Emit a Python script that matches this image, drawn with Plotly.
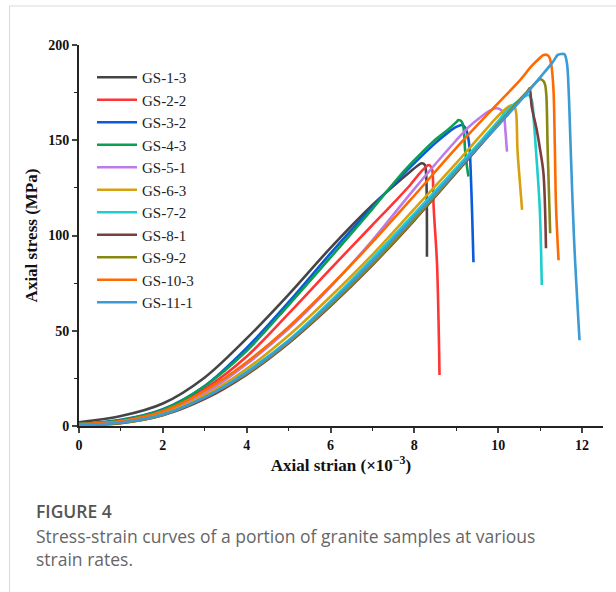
import plotly.graph_objects as go

# ---- data (strain x10^-3, stress MPa) ----
names = ["GS-1-3", "GS-2-2", "GS-3-2", "GS-4-3", "GS-5-1", "GS-6-3",
         "GS-7-2", "GS-8-1", "GS-9-2", "GS-10-3", "GS-11-1"]

gs_1_3_x = [0, 1, 2, 3, 4, 5, 6, 7, 7.5, 7.9, 8.1, 8.18, 8.25, 8.28, 8.30]
gs_1_3_y = [2, 5.2, 11.8, 25.5, 46, 69, 93.5, 116, 126, 133.5, 137, 137.9, 137, 132.6, 88.9]

gs_2_2_x = [0, 1, 2, 3, 4, 5, 6, 7, 7.5, 7.9, 8.1, 8.25, 8.34, 8.4, 8.43, 8.46, 8.54, 8.59, 8.6]
gs_2_2_y = [1, 2.8, 8, 19.5, 36.5, 59, 82.5, 105.5, 117, 126.5, 132, 135.5, 137, 136, 134, 115, 85.4, 40.8, 26.8]

gs_3_2_x = [0, 1, 2, 3, 4, 5, 6, 7, 7.66, 8, 8.5, 8.8, 9.0, 9.13, 9.22, 9.28, 9.32, 9.34, 9.38, 9.41]
gs_3_2_y = [1, 3.2, 8.8, 21, 41, 65, 90.6, 115, 130.5, 138, 148.5, 154, 157, 158, 156.5, 152, 145, 136, 110, 86]

gs_4_3_x = [0, 1, 2, 3, 4, 5, 6, 7, 7.66, 8, 8.46, 8.8, 9.0, 9.05, 9.12, 9.17, 9.21, 9.25, 9.29]
gs_4_3_y = [1, 3, 8.5, 21, 39.5, 63.5, 88.5, 114, 131.5, 139.5, 149.5, 155.5, 159.5, 160.6, 160, 157, 145, 137, 131]

gs_5_1_x = [0, 1, 2, 3, 4, 5, 6, 7, 8, 9, 9.3, 9.6, 9.8, 9.93, 10.05, 10.13, 10.17, 10.21]
gs_5_1_y = [0.8, 2.2, 7, 17, 32.5, 51, 73, 97.5, 124.5, 150, 157, 162.5, 165.5, 166.8, 166.2, 164, 155.4, 144]

gs_6_3_x = [0, 1, 2, 3, 4, 5, 6, 7, 8, 9, 9.4, 9.8, 10.1, 10.33, 10.4, 10.43, 10.46, 10.5, 10.57]
gs_6_3_y = [0.8, 2, 6.5, 16, 30, 47.5, 68, 90, 114, 138, 148, 158, 165, 168.5, 167, 164, 145, 132.6, 113.4]

gs_7_2_x = [0, 1, 2, 3, 4, 5, 6, 7, 8, 9, 9.6, 10.0, 10.2, 10.5, 10.72, 10.8, 10.85, 10.9, 10.99, 11.04]
gs_7_2_y = [0.6, 1.8, 6, 15, 28.5, 45, 65.5, 88, 111.5, 135.5, 150, 160, 165.5, 171, 173.8, 171, 160, 145, 115, 74]

gs_8_1_x = [0, 1, 2, 3, 4, 5, 6, 7, 8, 9, 10, 10.5, 10.7, 10.75, 10.8, 10.92, 11.0, 11.08, 11.14]
gs_8_1_y = [0.5, 1.5, 5.6, 14.2, 27, 43.5, 63, 84.5, 108, 133, 158, 170.5, 175.5, 177.3, 167.6, 155.4, 145, 132.6, 93.3]

gs_9_2_x = [0, 1, 2, 3, 4, 5, 6, 7, 8, 9, 10, 10.5, 10.8, 11.0, 11.08, 11.12, 11.15, 11.18, 11.24]
gs_9_2_y = [0.5, 1.6, 5.8, 15, 27.5, 44, 63.5, 85, 108.5, 133.5, 158.5, 171, 178, 182, 181, 179, 173, 145, 101.2]

gs_10_3_x = [0, 1, 2, 3, 4, 5, 6, 7, 8, 9, 10, 10.5, 10.8, 11.0, 11.08, 11.2, 11.27, 11.32, 11.35, 11.38, 11.44]
gs_10_3_y = [1, 2.6, 7.8, 18.5, 33.5, 52, 73.5, 96.5, 121, 146, 169.5, 181, 189, 193.3, 194.8, 194.3, 189, 176, 148, 115, 87]

gs_11_1_x = [0, 1, 2, 3, 4, 5, 6, 7, 8, 9, 10, 10.5, 11.0, 11.3, 11.42, 11.5, 11.58, 11.64, 11.68, 11.73, 11.81, 11.94]
gs_11_1_y = [0.5, 1.8, 6, 15, 28, 44.5, 64.5, 86.5, 110, 134, 158, 170, 183, 191, 194.8, 195.3, 195.1, 190.4, 176.4, 145, 97.6, 45]

colors = ["#454545", "#FF3535", "#0A5BDB", "#0C9E52", "#BC7BE6", "#D9A00E",
          "#1ECDCD", "#7A3E3E", "#878712", "#FF6A00", "#3C9AD4"]

xs = [gs_1_3_x, gs_2_2_x, gs_3_2_x, gs_4_3_x, gs_5_1_x, gs_6_3_x,
      gs_7_2_x, gs_8_1_x, gs_9_2_x, gs_10_3_x, gs_11_1_x]
ys = [gs_1_3_y, gs_2_2_y, gs_3_2_y, gs_4_3_y, gs_5_1_y, gs_6_3_y,
      gs_7_2_y, gs_8_1_y, gs_9_2_y, gs_10_3_y, gs_11_1_y]

x_ticks = [0, 2, 4, 6, 8, 10, 12]
y_ticks = [0, 50, 100, 150, 200]

fig = go.Figure()
for n, x, y, c in zip(names, xs, ys, colors):
    fig.add_trace(go.Scatter(x=x, y=y, name=n, mode="lines",
                             line=dict(color=c, width=2.6, shape="spline", smoothing=0.9)))

W, H = 616, 592
L, R, T, B = 79, 13, 45, 166
pw, ph = W - L - R, H - T - B

def px(xp):
    return (xp - L) / pw

def py(yp):
    return (H - B - yp) / ph

serif = "Liberation Serif, Times New Roman, serif"
sans = "Open Sans, Noto Sans, sans-serif"

fig.update_layout(
    width=W, height=H,
    margin=dict(l=L, r=R, t=T, b=B),
    paper_bgcolor="white", plot_bgcolor="white",
    showlegend=True,
    legend=dict(x=px(92), y=py(61), xanchor="left", yanchor="top",
                font=dict(family=serif, size=15, color="#222"),
                bgcolor="rgba(0,0,0,0)", itemwidth=40, tracegroupgap=0),
    xaxis=dict(range=[0, 12.5], tickvals=x_ticks, ticks="outside", ticklen=5, tickwidth=1.5,
               showline=True, linecolor="#222", linewidth=2, showgrid=False, zeroline=False,
               tickfont=dict(family=serif, size=14, color="#111", weight="bold"),
               minor=dict(ticks="outside", ticklen=3, dtick=1, tickwidth=1.2, tickcolor="#222"),
               title=dict(text="Axial strian (×10<sup>−3</sup>)", standoff=6,
                          font=dict(family=serif, size=17, color="#111", weight="bold"))),
    yaxis=dict(range=[0, 200], tickvals=y_ticks, ticks="outside", ticklen=5, tickwidth=1.5,
               showline=True, linecolor="#222", linewidth=2, showgrid=False, zeroline=False,
               tickfont=dict(family=serif, size=14, color="#111", weight="bold"),
               minor=dict(ticks="outside", ticklen=3, dtick=25, tickwidth=1.2, tickcolor="#222"),
               title=dict(text="Axial stress (MPa)", standoff=6,
                          font=dict(family=serif, size=17, color="#111", weight="bold"))),
)

# card border (top and left)
fig.add_shape(type="line", xref="paper", yref="paper", x0=px(9.5), x1=px(616), y0=py(6), y1=py(6),
              line=dict(color="#d9d9d9", width=1))
fig.add_shape(type="line", xref="paper", yref="paper", x0=px(9.5), x1=px(9.5), y0=py(6), y1=py(592),
              line=dict(color="#d9d9d9", width=1))

fig.add_annotation(xref="paper", yref="paper", x=px(34), y=py(511), xanchor="left", yanchor="middle",
                   text="FIGURE 4", showarrow=False,
                   font=dict(family=sans, size=17.5, color="#555", weight=600))
fig.add_annotation(xref="paper", yref="paper", x=px(34), y=py(547), xanchor="left", yanchor="middle",
                   text="Stress-strain curves of a portion of granite samples at various<br>strain rates.",
                   showarrow=False, align="left",
                   font=dict(family=sans, size=17.5, color="#666"))

fig.write_html("out.html")
